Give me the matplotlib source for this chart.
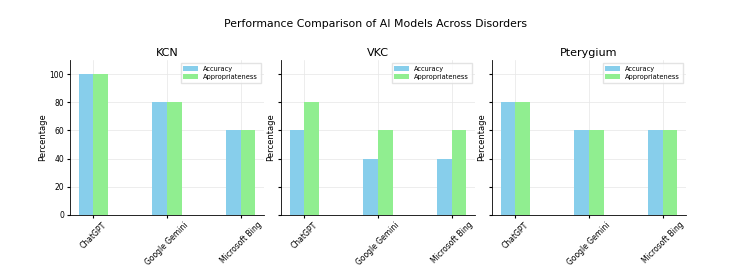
import matplotlib

matplotlib.use("Agg")
import matplotlib.pyplot as plt
import numpy as np

models = ["ChatGPT", "Google Gemini", "Microsoft Bing"]
disorders = ["KCN", "VKC", "Pterygium"]
accuracy_kcn = [100, 80, 60]
approp_kcn = [100, 80, 60]
accuracy_vkc = [60, 40, 40]
approp_vkc = [80, 60, 60]
accuracy_pter = [80, 60, 60]
approp_pter = [80, 60, 60]

accuracy = [accuracy_kcn, accuracy_vkc, accuracy_pter]
appropriateness = [approp_kcn, approp_vkc, approp_pter]

fig, axes = plt.subplots(1, 3, figsize=(7.5, 2.67), dpi=100, sharey=True)
fig.subplots_adjust(left=0.093, right=0.915, top=0.775, bottom=0.195, wspace=0.085)

x = np.arange(len(models))
w = 0.2
for ax, name, acc, app in zip(axes, disorders, accuracy, appropriateness):
    ax.bar(x - w / 2, acc, w, label="Accuracy", color="skyblue")
    ax.bar(x + w / 2, app, w, label="Appropriateness", color="lightgreen")
    ax.set_title(name, fontsize=8, pad=3)
    ax.set_ylabel("Percentage", fontsize=6, labelpad=2)
    ax.set_xticks(x)
    ax.set_xticklabels(models, rotation=45, fontsize=5.5)
    ax.tick_params(axis="y", labelsize=5.5, length=2, pad=2)
    ax.tick_params(axis="x", length=2, pad=2)
    ax.set_ylim(0, 110)
    ax.grid(True, color="#e6e6e6", linewidth=0.5)
    ax.set_axisbelow(True)
    for s in ("top", "right"):
        ax.spines[s].set_visible(False)
    for s in ("left", "bottom"):
        ax.spines[s].set_linewidth(0.6)
    ax.legend(fontsize=4.8, loc="upper right", handlelength=2.2, borderpad=0.4,
              labelspacing=0.3, framealpha=0.8, fancybox=False, edgecolor="#dddddd")

fig.suptitle("Performance Comparison of AI Models Across Disorders", fontsize=7.8, y=0.93)
fig.savefig("out.png", dpi=100)
